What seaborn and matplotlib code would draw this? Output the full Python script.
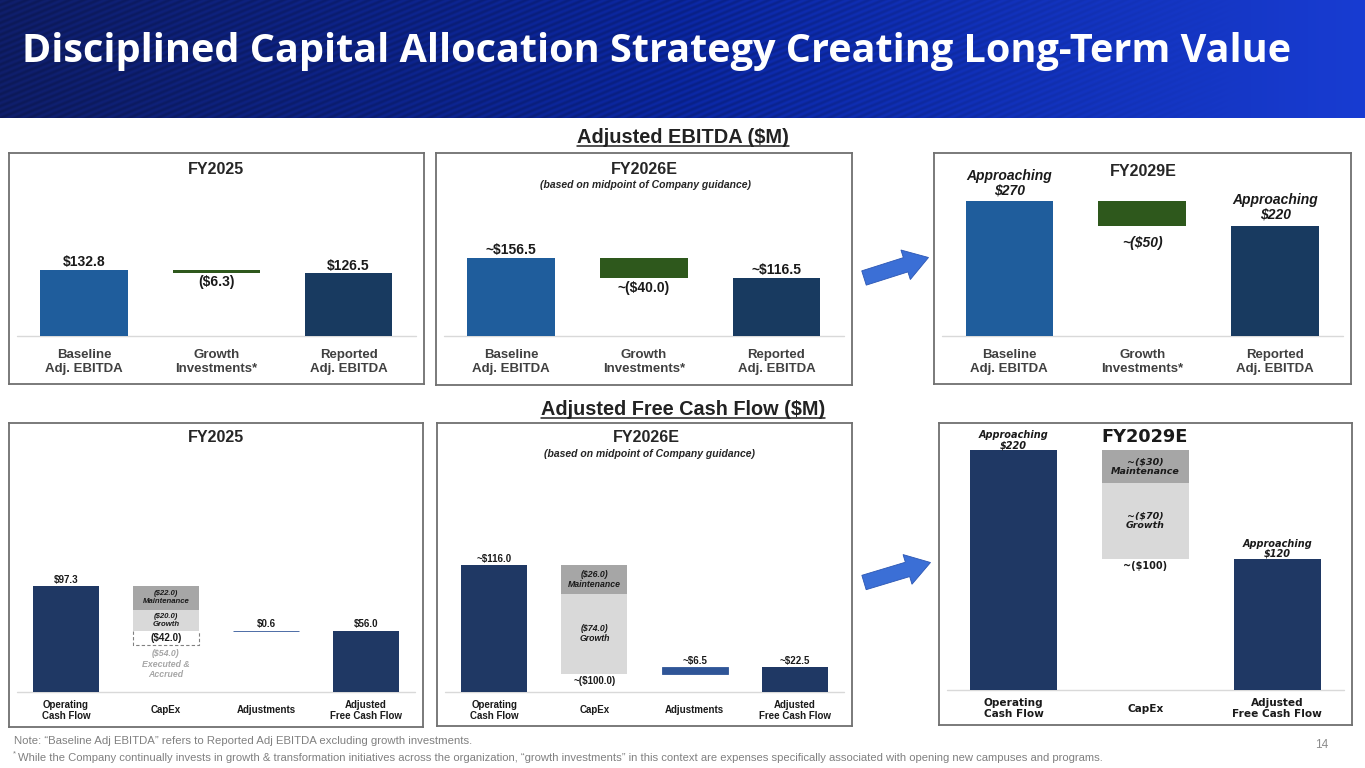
import numpy as np
import pandas as pd
import matplotlib
matplotlib.use("Agg")
import matplotlib.pyplot as plt
import seaborn as sns
from matplotlib.patches import FancyArrow
from matplotlib.lines import Line2D
from matplotlib.transforms import IdentityTransform

sns.set_theme(style="white")
plt.rcParams["font.family"] = ["Liberation Sans", "DejaVu Sans"]

# ---------------- data ----------------
ebitda_cats = ["Baseline\nAdj. EBITDA", "Growth\nInvestments*", "Reported\nAdj. EBITDA"]
# baseline, growth investments, reported
ebitda_fy25 = [132.8, -6.3, 126.5]
ebitda_fy26 = [156.5, -40.0, 116.5]
ebitda_fy29 = [270, -50, 220]
ebitda_fy25_labels = ["$132.8", "($6.3)", "$126.5"]
ebitda_fy26_labels = ["~$156.5", "~($40.0)", "~$116.5"]
ebitda_fy29_labels = ["Approaching\n$270", "~($50)", "Approaching\n$220"]

fcf_cats = ["Operating\nCash Flow", "CapEx", "Adjustments", "Adjusted\nFree Cash Flow"]
fcf_cats_fy29 = ["Operating\nCash Flow", "CapEx", "Adjusted\nFree Cash Flow"]
# operating cash flow, maintenance capex, growth capex, adjustments, adjusted FCF
fcf_fy25 = [97.3, -22.0, -20.0, 0.6, 56.0]
fcf_fy25_accrued = -54.0
fcf_fy26 = [116.0, -26.0, -74.0, 6.5, 22.5]
# operating cash flow, maintenance capex, growth capex, adjusted FCF
fcf_fy29 = [220, -30, -70, 120]
fcf_fy25_labels = ["$97.3", "($22.0)\nMaintenance", "($20.0)\nGrowth", "($42.0)", "$0.6", "$56.0"]
fcf_fy25_accrued_label = "($54.0)\nExecuted &\nAccrued"
fcf_fy26_labels = ["~$116.0", "($26.0)\nMaintenance", "($74.0)\nGrowth", "~($100.0)", "~$6.5", "~$22.5"]
fcf_fy29_labels = ["Approaching\n$220", "~($30)\nMaintenance", "~($70)\nGrowth", "~($100)", "Approaching\n$120"]

title = "Disciplined Capital Allocation Strategy Creating Long-Term Value"
note1 = "Note: \u201cBaseline Adj EBITDA\u201d refers to Reported Adj EBITDA excluding growth investments."
note2 = ("While the Company continually invests in growth & transformation initiatives across the organization, "
         "\u201cgrowth investments\u201d in this context are expenses specifically associated with opening new campuses and programs.")

# colours
c_blue = "#1f5d9c"
c_navy_top = "#183a60"
c_green = "#2e581c"
c_navy = "#1f3864"
c_maint = "#a6a6a6"
c_growth = "#d9d9d9"
c_adj = "#2f5597"
c_text = "#1a1a1a"
c_cat = "#404040"

W, H = 1365, 768
fig = plt.figure(figsize=(W / 100, H / 100), dpi=100)
renderer = fig.canvas.get_renderer()


def px_axes(x0, y0, x1, y1):
    return fig.add_axes([x0 / W, 1 - y1 / H, (x1 - x0) / W, (y1 - y0) / H])


def ftext(x, y, s, **kw):
    return fig.text(x / W, 1 - y / H, s, **kw)


def fit(t, target):
    bb = t.get_window_extent(renderer=renderer)
    t.set_fontsize(t.get_fontsize() * target / bb.width)


def note(ax, x, y, s, dy=0, **kw):
    # dy in pixels, positive = up
    kw.setdefault("ha", "center")
    kw.setdefault("va", "center")
    ax.annotate(s, (x, y), xytext=(0, dy * 0.72), textcoords="offset points", **kw)


def frame(ax, y0, y1, base, ppu, xlim):
    ax.set_ylim(-(y1 - base) / ppu, (base - y0) / ppu)
    ax.set_xlim(*xlim)
    ax.set_xticks([])
    ax.set_yticks([])
    ax.set_xlabel("")
    ax.set_ylabel("")
    for s in ax.spines.values():
        s.set_visible(True)
        s.set_color("#707070")
        s.set_linewidth(1.3)
    ax.axhline(0, xmin=0.02, xmax=0.98, color="#d9d9d9", lw=1, zorder=1)


# ---------------- header ----------------
hx = np.linspace(0, 1, W)
hy = np.linspace(0, 1, 118)
XX, YY = np.meshgrid(hx, hy)
stops = np.array([[14, 28, 98], [10, 36, 150], [24, 60, 210]]) / 255.0
img = np.zeros((118, W, 3))
for k in range(3):
    img[..., k] = np.interp(XX, [0, 0.5, 1], stops[:, k])
px = XX * W
py = YY * 118
stripes = 1 + 0.10 * np.sin(2 * np.pi * (py + 0.42 * px) / 6.0) * np.clip((1250 - px) / 500, 0, 1)
img = np.clip(img * stripes[..., None], 0, 1)
ax_h = fig.add_axes([0, 1 - 118 / H, 1, 118 / H])
ax_h.imshow(img, aspect="auto", extent=[0, W, 118, 0])
ax_h.axis("off")
t = ftext(22, 62, title, color="white", fontsize=28, fontweight="bold",
          family="Open Sans", ha="left", va="baseline")
fit(t, 1266)

# section headings with underline
for s, xc, yb, wdt in [("Adjusted EBITDA ($M)", 683, 143, 211),
                       ("Adjusted Free Cash Flow ($M)", 683, 415, 283)]:
    t = ftext(xc, yb, s, fontsize=13, fontweight="bold", color="#222222", ha="center", va="baseline")
    fit(t, wdt)
    bb = t.get_window_extent(renderer=renderer)
    fig.add_artist(Line2D([bb.x0 / W, bb.x1 / W], [1 - (yb + 3) / H] * 2, color="#222222", lw=1.1))

# ---------------- EBITDA panels ----------------
def ebitda_panel(box, base, vals, labels, offs, italic=False):
    ax = px_axes(*box)
    df = pd.DataFrame({"cat": [ebitda_cats[0], ebitda_cats[2]], "val": [vals[0], vals[2]]})
    sns.barplot(data=df, x="cat", y="val", order=ebitda_cats, hue="cat",
                palette={ebitda_cats[0]: c_blue, ebitda_cats[2]: c_navy_top},
                width=0.66, saturation=1, errorbar=None, legend=False, ax=ax, zorder=2, linewidth=0)
    ax.bar(1, vals[1], bottom=vals[0], width=0.66, color=c_green, lw=0, zorder=2)
    frame(ax, box[1], box[3], base, 0.5, (-0.567, 2.57))
    style = "italic" if italic else "normal"
    note(ax, 0, vals[0], labels[0], offs[0], fontsize=10, fontweight="bold", style=style,
         color=c_text, linespacing=1.0)
    note(ax, 1, vals[0] + vals[1], labels[1], offs[1], fontsize=10, fontweight="bold", style=style,
         color=c_text)
    note(ax, 2, vals[2], labels[2], offs[2], fontsize=10, fontweight="bold", style=style,
         color=c_text, linespacing=1.0)
    for i, c in enumerate(ebitda_cats):
        note(ax, i, 0, c, -26, fontsize=9.5, fontweight="bold", color=c_cat, linespacing=1.2)
    return ax


ebitda_panel((9, 153, 424, 384), 336, ebitda_fy25, ebitda_fy25_labels, (8, -9, 7))
ftext(216, 169, "FY2025", fontsize=11.5, fontweight="bold", color="#262626", ha="center", va="center")

ebitda_panel((436, 153, 852, 385), 336, ebitda_fy26, ebitda_fy26_labels, (8, -10, 8))
ftext(644, 169, "FY2026E", fontsize=11.5, fontweight="bold", color="#262626", ha="center", va="center")
ftext(646, 185, "(based on midpoint of Company guidance)", fontsize=7.5, fontweight="bold",
      style="italic", color="#262626", ha="center", va="center")

ebitda_panel((934, 153, 1351, 384), 336, ebitda_fy29, ebitda_fy29_labels, (18, -17, 19), italic=True)
ftext(1143, 171, "FY2029E", fontsize=11.5, fontweight="bold", color="#262626", ha="center", va="center")

# ---------------- free cash flow panels ----------------
def fcf_panel(box, base, vals, labels, offs, seg_fs, accrued=None):
    ax = px_axes(*box)
    df = pd.DataFrame({"cat": [fcf_cats[0], fcf_cats[3]], "val": [vals[0], vals[4]]})
    sns.barplot(data=df, x="cat", y="val", order=fcf_cats, hue="cat",
                palette={fcf_cats[0]: c_navy, fcf_cats[3]: c_navy},
                width=0.66, saturation=1, errorbar=None, legend=False, ax=ax, zorder=2, linewidth=0)
    top = vals[0]
    mid = top + vals[1]
    low = mid + vals[2]
    if accrued is not None:
        # dashed outline of the executed & accrued amount below the cash capex
        ax.plot([0.67, 0.67, 1.33, 1.33], [low, top + accrued, top + accrued, low],
                ls=(0, (3, 2)), color="#808080", lw=0.8, zorder=1.5)
    ax.bar(1, vals[1], bottom=top, width=0.66, color=c_maint, lw=0, zorder=2)
    ax.bar(1, vals[2], bottom=mid, width=0.66, color=c_growth, lw=0, zorder=2)
    ax.bar(2, vals[3], bottom=low, width=0.66, color=c_adj, ec=c_adj, lw=0.6, zorder=2)
    frame(ax, box[1], box[3], base, 1.09, (-0.57, 3.57))
    lab = dict(fontsize=7, fontweight="bold", color=c_text)
    seg = dict(fontsize=seg_fs, fontweight="bold", style="italic", color=c_text, linespacing=1.15)
    note(ax, 0, top, labels[0], offs[0], **lab)
    note(ax, 1, (top + mid) / 2, labels[1], 0, **seg)
    note(ax, 1, (mid + low) / 2, labels[2], 0, **seg)
    if accrued is not None:
        note(ax, 1, (low + top + accrued) / 2, labels[3], 0, **lab)
        note(ax, 1, top + accrued, fcf_fy25_accrued_label, -19.5, fontsize=6.3, fontweight="bold",
             style="italic", color="#a6a6a6", linespacing=1.15)
    else:
        note(ax, 1, low, labels[3], offs[1], **lab)
    note(ax, 2, low + vals[3], labels[4], offs[2], **lab)
    note(ax, 3, vals[4], labels[5], offs[2], **lab)
    for i, c in enumerate(fcf_cats):
        note(ax, i, 0, c, -18.5, fontsize=7, fontweight="bold", color=c_text, linespacing=1.1)
    return ax


fcf_panel((9, 423, 423, 727), 691.7, fcf_fy25, fcf_fy25_labels, (6, -7, 6.5), 5.6,
          accrued=fcf_fy25_accrued)
ftext(216, 438, "FY2025", fontsize=11.5, fontweight="bold", color="#262626", ha="center", va="center")

fcf_panel((437, 423, 852, 726), 691.7, fcf_fy26, fcf_fy26_labels, (6.3, -7, 6), 6.3)
ftext(646, 437, "FY2026E", fontsize=11.5, fontweight="bold", color="#262626", ha="center", va="center")
ftext(649, 454, "(based on midpoint of Company guidance)", fontsize=7.5, fontweight="bold",
      style="italic", color="#262626", ha="center", va="center")

# FY2029E free cash flow
box = (939, 423, 1352, 725)
ax = px_axes(*box)
dv = "DejaVu Sans"
df = pd.DataFrame({"cat": [fcf_cats_fy29[0], fcf_cats_fy29[2]], "val": [fcf_fy29[0], fcf_fy29[3]]})
sns.barplot(data=df, x="cat", y="val", order=fcf_cats_fy29, hue="cat",
            palette={fcf_cats_fy29[0]: c_navy, fcf_cats_fy29[2]: c_navy},
            width=0.66, saturation=1, errorbar=None, legend=False, ax=ax, zorder=2, linewidth=0)
top = fcf_fy29[0]
mid = top + fcf_fy29[1]
low = mid + fcf_fy29[2]
ax.bar(1, fcf_fy29[1], bottom=top, width=0.66, color=c_maint, lw=0, zorder=2)
ax.bar(1, fcf_fy29[2], bottom=mid, width=0.66, color=c_growth, lw=0, zorder=2)
frame(ax, box[1], box[3], 690, 1.09, (-0.565, 2.568))
note(ax, 0, top, fcf_fy29_labels[0], 10, family=dv, fontsize=7, fontweight="bold", style="italic",
     color=c_text, linespacing=1.0)
note(ax, 1, (top + mid) / 2, fcf_fy29_labels[1], 0, family=dv, fontsize=6.8, fontweight="bold",
     style="italic", color=c_text, linespacing=1.05)
note(ax, 1, (mid + low) / 2, fcf_fy29_labels[2], 0, family=dv, fontsize=6.8, fontweight="bold",
     style="italic", color=c_text, linespacing=1.05)
note(ax, 1, low, fcf_fy29_labels[3], -7, family=dv, fontsize=7, fontweight="bold", color=c_text)
note(ax, 2, fcf_fy29[3], fcf_fy29_labels[4], 10.5, family=dv, fontsize=7, fontweight="bold",
     style="italic", color=c_text, linespacing=1.0)
for i, c in enumerate(fcf_cats_fy29):
    note(ax, i, 0, c, -18.5, family=dv, fontsize=7.6, fontweight="bold", color=c_text, linespacing=1.05)
ftext(1145, 437, "FY2029E", family=dv, fontsize=12.8, fontweight="bold", color="#1a1a1a",
      ha="center", va="center")

# ---------------- arrows ----------------
for tail_y, tip in [(278, (928.5, 257.5)), (582.5, (930.5, 562.5))]:
    x0, y0 = 864, H - tail_y
    dx, dy = tip[0] - x0, (H - tip[1]) - y0
    arr = FancyArrow(x0, y0, dx, dy, width=15, head_width=31, head_length=24,
                     length_includes_head=True, transform=IdentityTransform(),
                     fc="#3b6fd6", ec="#2b56b3", lw=0.6)
    fig.add_artist(arr)

# ---------------- footer ----------------
t = ftext(14, 741, note1, fontsize=8, color="#808080", ha="left", va="center")
fit(t, 462)
ftext(13, 754, "*", fontsize=5.5, color="#808080", ha="left", va="center")
t = ftext(18, 758, note2, fontsize=8, color="#808080", ha="left", va="center")
fit(t, 1099)
ftext(1322, 745, "14", fontsize=8.5, color="#8c8c8c", ha="center", va="center")

fig.savefig("out.png", dpi=100)
